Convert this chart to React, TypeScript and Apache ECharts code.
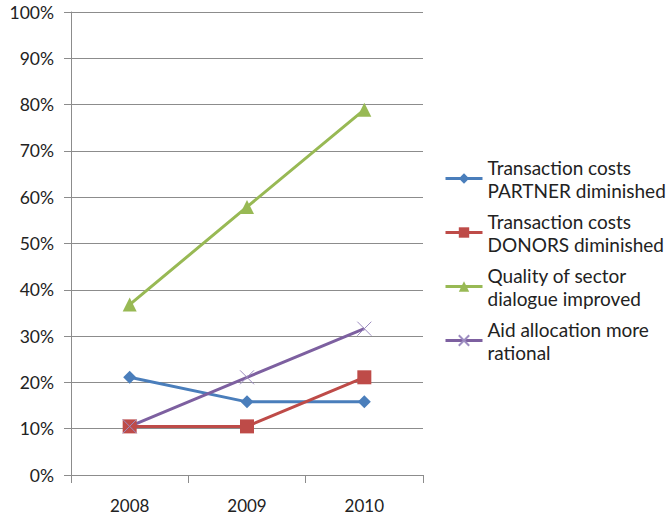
import React, { useEffect, useRef } from "react";
import * as echarts from "echarts";

const years = ["2008", "2009", "2010"];
const partnerCosts = [21.1, 15.8, 15.8];
const donorCosts = [10.5, 10.5, 21.1];
const dialogue = [36.8, 57.9, 78.9];
const allocation = [10.5, 21.1, 31.6];
const seriesNames = [
  "Transaction costs\nPARTNER diminished",
  "Transaction costs\nDONORS diminished",
  "Quality of sector\ndialogue improved",
  "Aid allocation more\nrational",
];

const FONT = "Lato";

export default function App() {
  const ref = useRef<HTMLDivElement>(null);
  useEffect(() => {
    if (!ref.current) return;
    const chart = echarts.init(ref.current, null, { renderer: "svg" });
    const cross = "path://M0,0L10,10M10,0L0,10";
    chart.setOption({
      animation: false,
      backgroundColor: "#ffffff",
      grid: { left: 71, top: 12, width: 352, height: 463, containLabel: false },
      legend: {
        orient: "vertical",
        left: 439,
        top: 139,
        itemWidth: 37,
        itemHeight: 13,
        itemGap: -15,
        lineStyle: { width: 3 },
        textStyle: {
          fontFamily: FONT,
          fontSize: 19,
          color: "#222",
          lineHeight: 23,
          padding: [23, 0, 0, 0],
        },
        data: seriesNames,
      },
      xAxis: {
        type: "category",
        data: years,
        boundaryGap: true,
        axisLine: { lineStyle: { color: "#8c8c8c", width: 1 } },
        axisTick: { show: true, length: 8, lineStyle: { color: "#8c8c8c" } },
        axisLabel: { fontFamily: FONT, fontSize: 17, color: "#222", margin: 22 },
        splitLine: { show: false },
      },
      yAxis: {
        type: "value",
        min: 0,
        max: 100,
        interval: 10,
        axisLine: { show: true, lineStyle: { color: "#8c8c8c" } },
        axisTick: { show: true, length: 7, lineStyle: { color: "#8c8c8c" } },
        axisLabel: { fontFamily: FONT, fontSize: 17.5, color: "#222", margin: 17, formatter: "{value}%" },
        splitLine: { lineStyle: { color: "#8c8c8c", width: 1 } },
      },
      series: [
        {
          name: seriesNames[0],
          type: "line",
          data: partnerCosts,
          symbol: "diamond",
          symbolSize: 13,
          lineStyle: { color: "#4a7ebb", width: 3 },
          itemStyle: { color: "#4a7ebb" },
        },
        {
          name: seriesNames[1],
          type: "line",
          data: donorCosts,
          symbol: "rect",
          symbolSize: 14,
          lineStyle: { color: "#be4b48", width: 3 },
          itemStyle: { color: "#be4b48" },
        },
        {
          name: seriesNames[2],
          type: "line",
          data: dialogue,
          symbol: "triangle",
          symbolSize: 14,
          lineStyle: { color: "#98b954", width: 3 },
          itemStyle: { color: "#98b954" },
        },
        {
          name: seriesNames[3],
          type: "line",
          data: allocation,
          symbol: cross,
          symbolSize: 14,
          lineStyle: { color: "#7d60a0", width: 3 },
          itemStyle: { color: "#7d60a0", borderColor: "#9c8cc0", borderWidth: 1 },
        },
      ],
    });
    return () => chart.dispose();
  }, []);
  return (
    <div
      ref={ref}
      style={{ position: "fixed", left: 0, top: 0, width: 672, height: 518, background: "#fff" }}
    />
  );
}
